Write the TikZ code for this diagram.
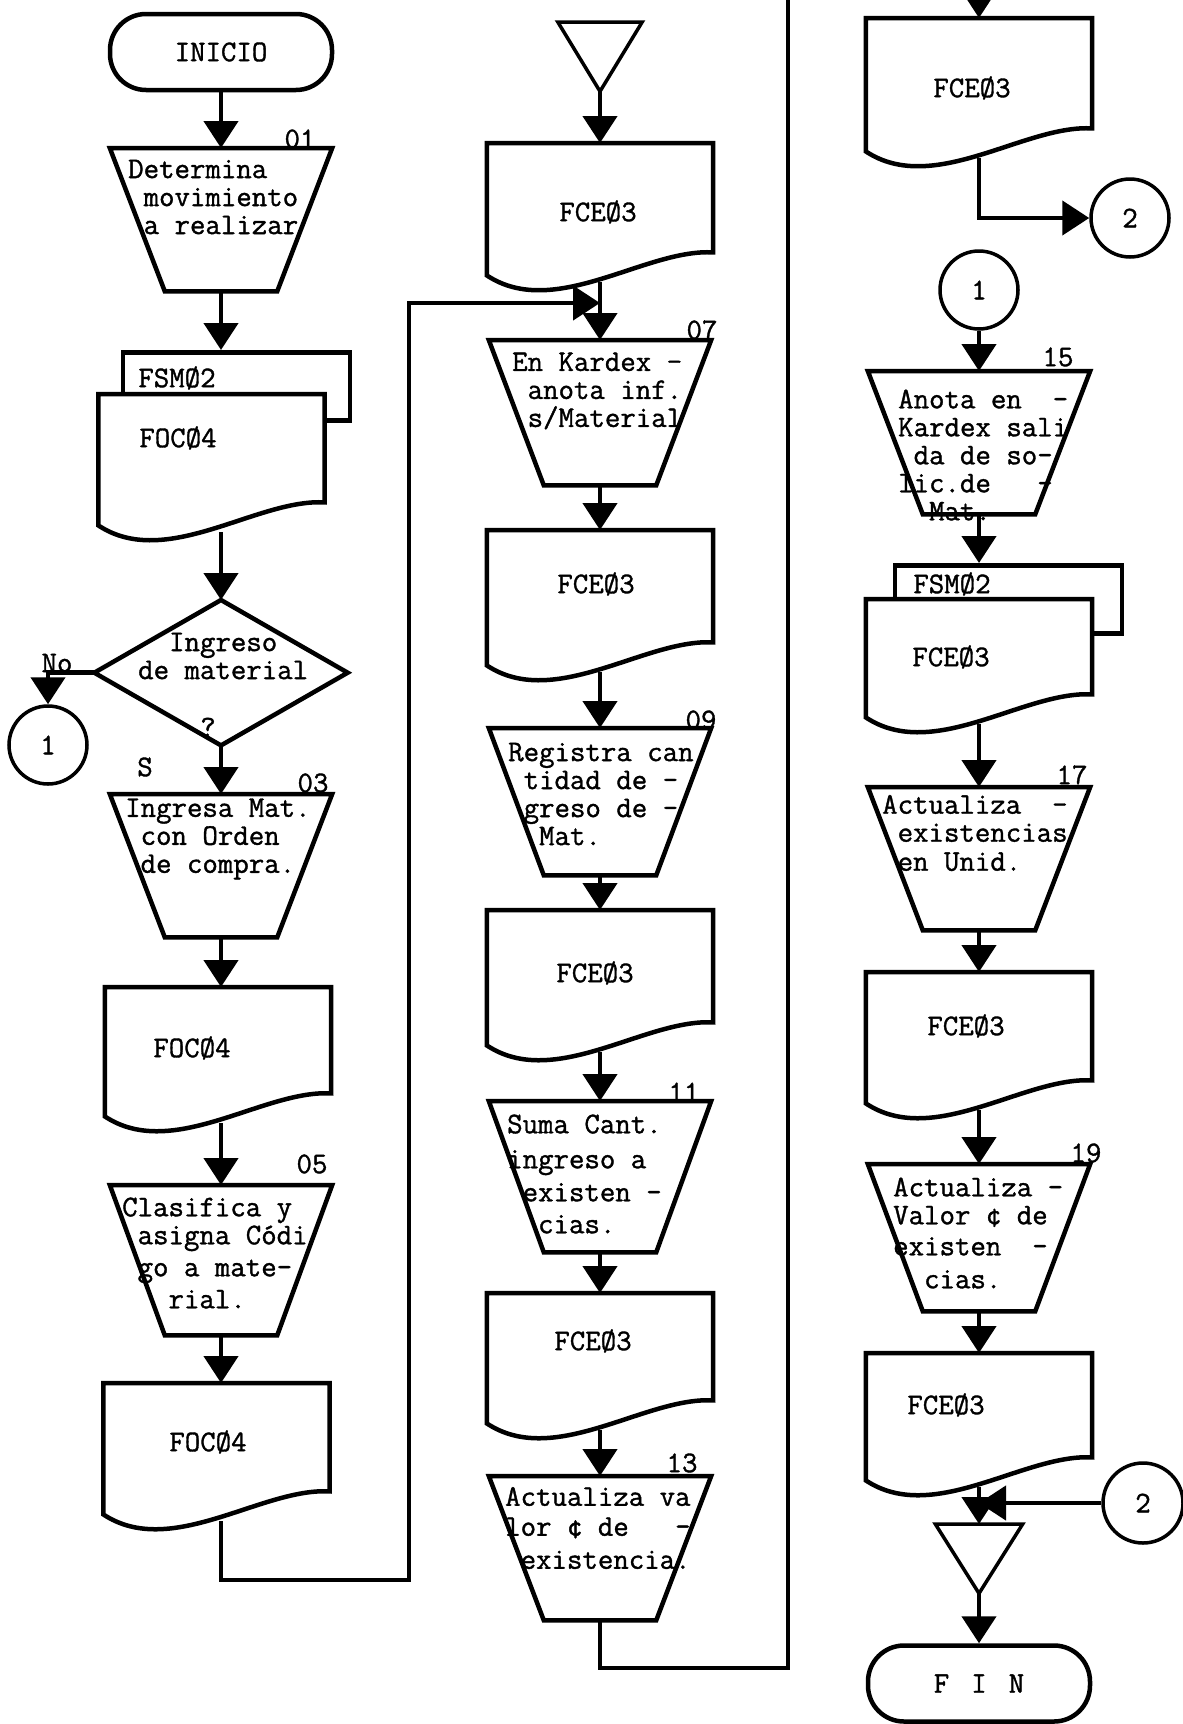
\documentclass[tikz,border=0pt]{standalone}
\usepackage{fontspec}
\newfontfamily\tw{Latin Modern Mono}[FakeBold=1.2]
\usetikzlibrary{positioning, calc, arrows.meta}

% one blank typewriter cell
\newcommand{\tabsp}{\hphantom{x}}

\tikzset{
    base/.style={
        font=\tw\fontsize{30}{28}\selectfont,
        inner sep=0pt
    },
    txt/.style={
        base,
        align=left,
        anchor=west
    },
    num/.style={
        base
    },
    outline/.style={
        draw=black,
        line width=4.5pt
    },
    flow/.style={
        line width=4.5pt,
        -{Triangle[width=34pt, length=27pt]}
    },
    term/.style={
        base,
        outline,
        rounded corners=36pt,
        minimum width=222pt,
        minimum height=76pt
    },
    conn/.style={
        base,
        circle,
        draw=black,
        line width=3.5pt,
        minimum size=78pt
    },
    sheet/.style={
        outline,
        anchor=north,
        inner sep=0pt,
        minimum width=227pt,
        minimum height=68pt
    },
    manual/.style={
        anchor=north,
        inner sep=0pt,
        minimum width=222pt,
        minimum height=#1,
        append after command={\pgfextra{
            \draw[outline, fill=white] (\tikzlastnode.north west) -- (\tikzlastnode.north east)
                -- ([xshift=-55pt]\tikzlastnode.south east)
                -- ([xshift=55pt]\tikzlastnode.south west) -- cycle;}}
    },
    manual/.default=145pt,
    docu/.style={
        anchor=north,
        inner sep=0pt,
        minimum width=226pt,
        minimum height=#1,
        append after command={\pgfextra{
            \draw[outline, fill=white] (\tikzlastnode.north west) -- (\tikzlastnode.north east)
                -- ($(\tikzlastnode.south east)+(0pt,30pt)$)
                .. controls ($(\tikzlastnode.south east)!0.3!(\tikzlastnode.south west)+(0pt,34pt)$)
                and ($(\tikzlastnode.south west)!0.3!(\tikzlastnode.south east)+(0pt,-38pt)$)
                .. ($(\tikzlastnode.south west)+(0pt,7pt)$) -- cycle;}}
    },
    docu/.default=138pt,
    decision/.style={
        anchor=north,
        inner sep=0pt,
        minimum width=253pt,
        minimum height=145pt,
        append after command={\pgfextra{
            \draw[outline] (\tikzlastnode.north) -- (\tikzlastnode.east)
                -- (\tikzlastnode.south) -- (\tikzlastnode.west) -- cycle;}}
    },
    store/.style={
        anchor=north,
        inner sep=0pt,
        minimum width=#1,
        minimum height=69pt,
        append after command={\pgfextra{
            \draw[outline, line width=3.5pt] (\tikzlastnode.north west) -- (\tikzlastnode.north east)
                -- (\tikzlastnode.south) -- cycle;}}
    },
    store/.default=84pt
}

\begin{document}
\begin{tikzpicture}[x=1pt, y=-1pt]
  \useasboundingbox (0,0) rectangle (1183,1724);
  \fill[white] (0,0) rectangle (1183,1724);
  \clip (0,0) rectangle (1183,1724);

  % Left column
  \node[term] (ini) at (221,52) {INICIO};

  \node[manual=143pt] (t01) at (221,148) {};
  \node[txt] (t01x) at (128,197) {Determina\\\tabsp movimiento\\\tabsp a realizar};
  \node[num] (n01) at (300,139) {01};

  \node[sheet] (fsm1) at (236.5,350) {};
  \node[num] (fsm1x) at (177,378) {FSMØ2};
  \node[docu] (foc1) at (211.5,394) {};
  \node[num] (foc1x) at (178,438) {FOCØ4};

  \node[decision] (d02) at (221,600) {};
  \node[txt] (d02x) at (138,656) {\tabsp\tabsp Ingreso\\de material};
  \node[num] (d02q) at (208,727) {?};
  \node[num] (lno) at (57,663) {No};
  \node[num] (lsi) at (145,767) {S};
  \node[conn] (c1a) at (48,745) {1};

  \node[manual=143pt] (t03) at (221,794) {};
  \node[txt] (t03x) at (125,839) {Ingresa Mat.\\\tabsp con Orden\\\tabsp de compra.};
  \node[num] (n03) at (313,783) {03};

  \node[docu=136pt] (foc2) at (218,987) {};
  \node[num] (foc2x) at (192,1048) {FOCØ4};

  \node[manual=150pt] (t05) at (221,1185) {};
  \node[txt] (t05x) at (122,1253) {Clasifica y\\\tabsp asigna Códi\\[4pt]\tabsp go a mate-\\[4pt]\tabsp\tabsp\tabsp rial.};
  \node[num] (n05) at (312,1164) {05};

  \node[docu] (foc3) at (216.5,1383) {};
  \node[num] (foc3x) at (208,1442) {FOCØ4};

  % Middle column
  \node[store] (tri1) at (600,22) {};

  \node[docu=139pt] (fce1) at (600,143) {};
  \node[num] (fce1x) at (598,212) {FCEØ3};

  \node[manual] (t07) at (600,340) {};
  \node[txt] (t07x) at (512,391) {En Kardex -\\\tabsp anota inf.\\\tabsp s/Material};
  \node[num] (n07) at (702,330) {07};

  \node[docu=142pt] (fce2) at (600,530) {};
  \node[num] (fce2x) at (596,584) {FCEØ3};

  \node[manual=147pt] (t09) at (600,728) {};
  \node[txt] (t09x) at (508,794) {Registra can\\\tabsp tidad de -\\\tabsp greso de -\\\tabsp\tabsp Mat.};
  \node[num] (n09) at (701,720) {09};

  \node[docu=142pt] (fce3) at (600,910) {};
  \node[num] (fce3x) at (595,973) {FCEØ3};

  \node[manual=151pt] (t11) at (600,1101) {};
  \node[txt] (t11x) at (507,1174) {Suma Cant.\\[7pt]ingreso a\\[5pt]\tabsp existen -\\[4pt]\tabsp\tabsp cias.};
  \node[num] (n11) at (684,1092) {11};

  \node[docu=137pt] (fce4) at (600,1293) {};
  \node[num] (fce4x) at (593,1341) {FCEØ3};

  \node[manual=144pt] (t13) at (600,1476) {};
  \node[txt] (t13x) at (505,1528) {Actualiza va\\[2pt]lor ¢ de~~~-\\[5pt]\tabsp existencia.};
  \node[num] (n13) at (682,1463) {13};

  % Right column
  \node[docu=140pt] (fce5) at (979,18) {};
  \node[num] (fce5x) at (972,88) {FCEØ3};
  \node[conn] (c2a) at (1130,218) {2};

  \node[conn] (c1b) at (979,290) {1};

  \node[manual=143pt] (t15) at (979,371) {};
  \node[txt] (t15x) at (898,455) {Anota en~~-\\Kardex sali\\\tabsp da de so-\\lic.de~~~-\\\tabsp\tabsp Mat.};
  \node[num] (n15) at (1058,357) {15};

  \node[sheet] (fsm2) at (1008.5,563) {};
  \node[num] (fsm2x) at (952,584) {FSMØ2};
  \node[docu=125pt] (fce6) at (979,599) {};
  \node[num] (fce6x) at (951,657) {FCEØ3};

  \node[manual=143pt] (t17) at (979,787) {};
  \node[txt] (t17x) at (882,833) {Actualiza~~-\\\tabsp existencias\\[1pt]\tabsp en Unid.};
  \node[num] (n17) at (1072,775) {17};

  \node[docu] (fce7) at (979,972) {};
  \node[num] (fce7x) at (966,1026) {FCEØ3};

  \node[manual=147pt] (t19) at (979,1164) {};
  \node[txt] (t19x) at (893,1233) {Actualiza -\\Valor ¢ de\\[3pt]existen~~-\\[5pt]\tabsp\tabsp cias.};
  \node[num] (n19) at (1086,1153) {19};

  \node[docu=134pt] (fce8) at (979,1353) {};
  \node[num] (fce8x) at (946,1405) {FCEØ3};
  \node[conn, minimum size=80pt] (c2b) at (1143,1503) {2};

  \node[store=87pt] (tri2) at (979,1524) {};
  \node[term] (fin) at (979,1683.5) {F\hspace{22pt}I\hspace{22pt}N};

  % Turning points of the long connectors
  \coordinate (j1) at (409,1580);
  \coordinate (m07) at (600,303);
  \coordinate (j3) at (788,1668);
  \coordinate (j4) at (788,-60);
  \coordinate (j5) at (fce8.south |- c2b.west);

  % Connectors, left column
  \draw[flow] (ini.south) -- (t01.north);
  \draw[flow] (t01.south) -- (t01.south |- fsm1.north);
  \draw[flow] (d02.north |- foc1.south) -- (d02.north);
  \draw[flow] (d02.west) -| (c1a.north);
  \draw[flow] (d02.south) -- (t03.north);
  \draw[flow] (t03.south) -- (t03.south |- foc2.north);
  \draw[flow] (t05.north |- foc2.south) -- (t05.north);
  \draw[flow] (t05.south) -- (t05.south |- foc3.north);
  \draw[flow] (foc3.south -| t05.south) |- (j1) |- (m07);

  % Connectors, middle column
  \draw[flow] (tri1.south) -- (fce1.north);
  \draw[flow] (fce1.south) -- (t07.north);
  \draw[flow] (t07.south) -- (fce2.north);
  \draw[flow] (fce2.south) -- (t09.north);
  \draw[flow] (t09.south) -- (fce3.north);
  \draw[flow] (fce3.south) -- (t11.north);
  \draw[flow] (t11.south) -- (fce4.north);
  \draw[flow] (fce4.south) -- (t13.north);
  \draw[flow] (t13.south) |- (j3) -- (j4) -| (fce5.north);

  % Connectors, right column
  \draw[flow] (fce5.south) |- (c2a.west);
  \draw[flow] (c1b.south) -- (t15.north);
  \draw[flow] (t15.south) -- (t15.south |- fsm2.north);
  \draw[flow] (fce6.south) -- (t17.north);
  \draw[flow] (t17.south) -- (fce7.north);
  \draw[flow] (fce7.south) -- (t19.north);
  \draw[flow] (t19.south) -- (fce8.north);
  \draw[flow] (fce8.south) -- (tri2.north);
  \draw[flow] (c2b.west) -- (j5);
  \draw[flow] (tri2.south) -- (fin.north);
\end{tikzpicture}
\end{document}
